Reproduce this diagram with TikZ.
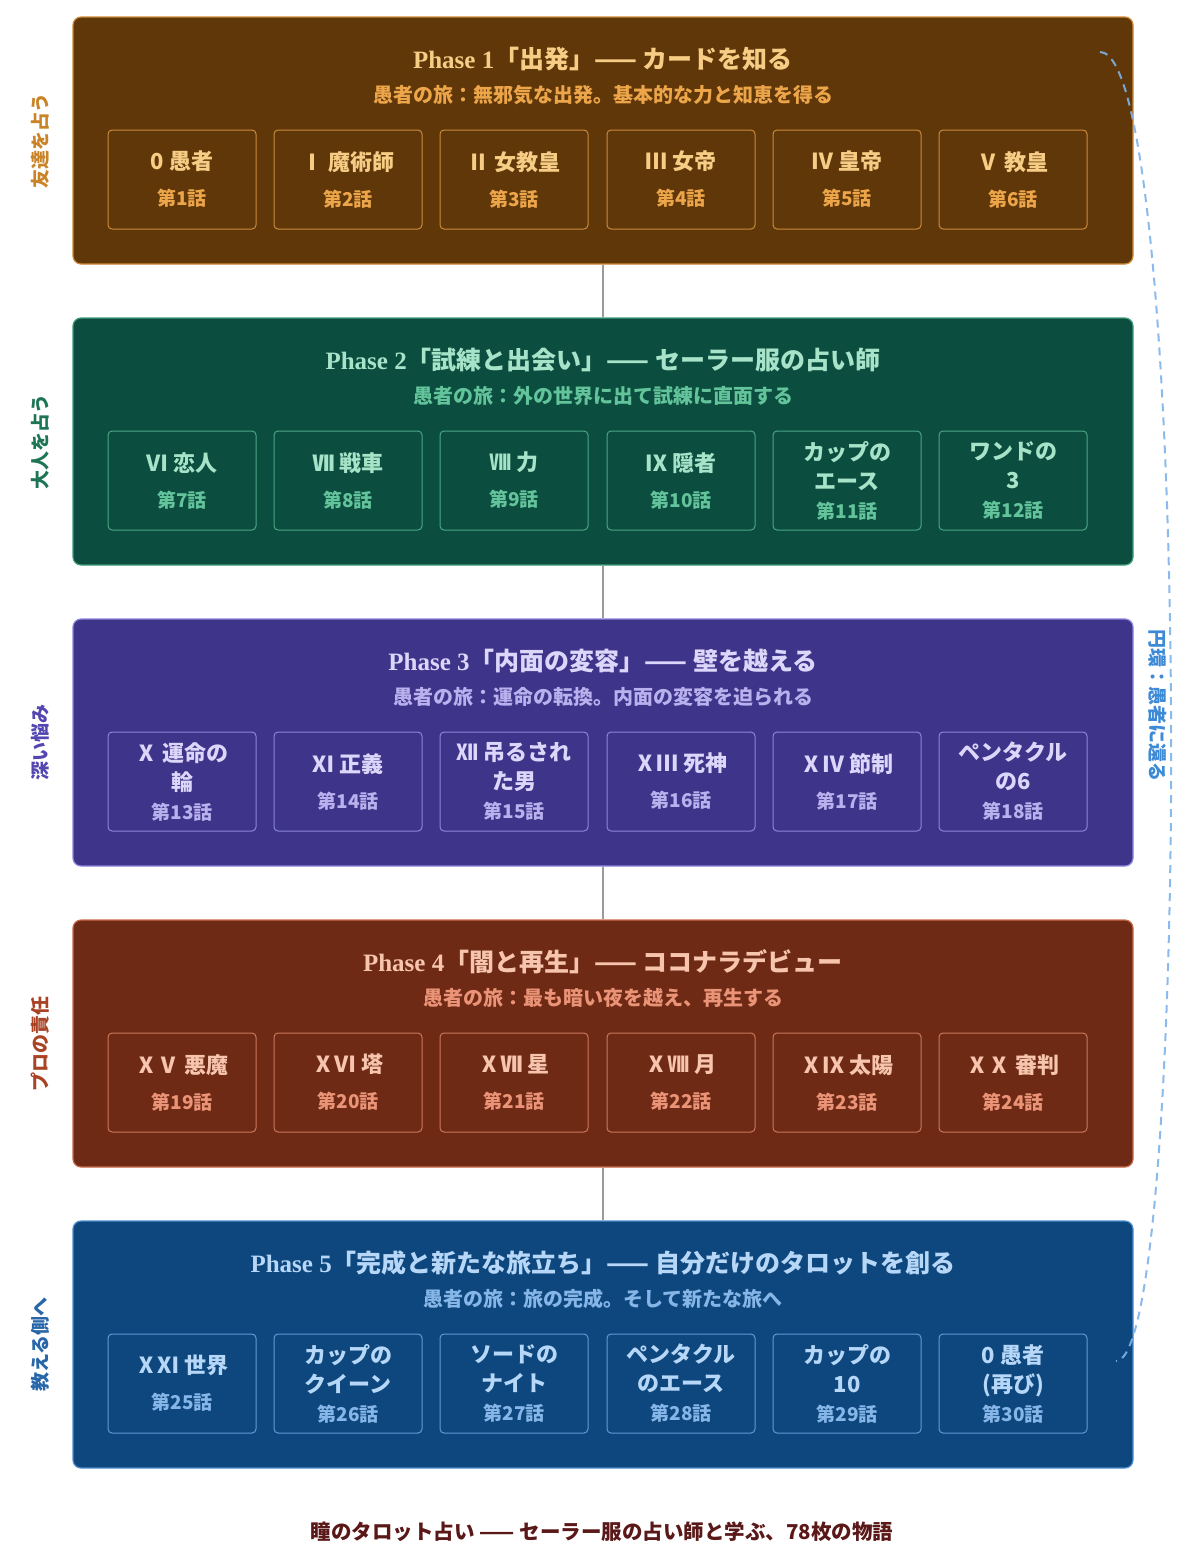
\documentclass[tikz,border=0pt]{standalone}
\usepackage{fontspec}
\setmainfont{Noto Sans CJK JP}
\newfontfamily\lat{Liberation Serif}
\definecolor{AFill}{HTML}{5F3709}\definecolor{ABord}{HTML}{D08A35}\definecolor{ATit}{HTML}{F7CD85}\definecolor{ASub}{HTML}{EDA54A}\definecolor{ACard}{HTML}{C98A3C}\definecolor{ALab}{HTML}{C98428}
\definecolor{BFill}{HTML}{0B4D3E}\definecolor{BBord}{HTML}{3F9C7A}\definecolor{BTit}{HTML}{A6E3C8}\definecolor{BSub}{HTML}{63C49C}\definecolor{BCard}{HTML}{4AA685}\definecolor{BLab}{HTML}{1D7556}
\definecolor{CFill}{HTML}{3E3489}\definecolor{CBord}{HTML}{8D84DC}\definecolor{CTit}{HTML}{DCD6FA}\definecolor{CSub}{HTML}{B9B0EE}\definecolor{CCard}{HTML}{8D84DC}\definecolor{CLab}{HTML}{5346B0}
\definecolor{DFill}{HTML}{6F2A16}\definecolor{DBord}{HTML}{C96A4A}\definecolor{DTit}{HTML}{F7C5AD}\definecolor{DSub}{HTML}{EA9377}\definecolor{DCard}{HTML}{C9785C}\definecolor{DLab}{HTML}{A84325}
\definecolor{EFill}{HTML}{0E477D}\definecolor{EBord}{HTML}{4D8FCF}\definecolor{ETit}{HTML}{B6D7F7}\definecolor{ESub}{HTML}{86B6E8}\definecolor{ECard}{HTML}{5F9AD6}\definecolor{ELab}{HTML}{2766A8}
\definecolor{ConnGray}{HTML}{9A9A9A}
\definecolor{LoopBlue}{HTML}{7FB3EA}
\definecolor{LoopLab}{HTML}{3D8AD6}
\definecolor{FootCol}{HTML}{5A1818}
\newcommand\ce{\fontsize{19}{29}\selectfont}
\tikzset{
  phasebox/.style={draw, rounded corners=8pt, minimum width=1060pt, minimum height=247pt, line width=1.2pt, inner sep=0pt},
  cardbox/.style={draw, rounded corners=4pt, minimum width=148pt, minimum height=99pt, line width=1pt, align=center, inner sep=0pt, font=\bfseries\fontsize{22}{29}\selectfont},
  ttl/.style={font=\bfseries\fontsize{25}{30}\selectfont, inner sep=0pt},
  subttl/.style={font=\bfseries\fontsize{20}{24}\selectfont, inner sep=0pt},
  sidelab/.style={font=\bfseries\fontsize{19}{22}\selectfont, rotate=90, inner sep=0pt},
  conn/.style={draw=ConnGray, line width=2pt},
  loopline/.style={draw=LoopBlue, line width=2pt, dash pattern=on 8pt off 6pt, opacity=0.9},
}
\begin{document}
\begin{tikzpicture}[x=1pt,y=-1pt,font=\bfseries]
\useasboundingbox[fill=white] (0,0) rectangle (1200,1559);
% ---------- Phase 1
\node[phasebox, fill=AFill, draw=ABord] (p1) at (603,140.5) {};
\node[ttl, text=ATit] (t1) at (603,59) {{\lat Phase 1}「出発」—— カードを知る};
\node[subttl, text=ASub] (s1) at (603,95) {愚者の旅：無邪気な出発。基本的な力と知恵を得る};
\node[sidelab, text=ALab] (l1) at (40,140.5) {友達を占う};
\begin{scope}[every node/.append style={cardbox, draw=ACard, text=ATit}]
\node (c1) at (182,179.5) {0 愚者\\[7pt]\ce\color{ASub}第1話};
\node (c2) at (348,179.5) {Ⅰ 魔術師\\[7pt]\ce\color{ASub}第2話};
\node (c3) at (514,179.5) {Ⅱ 女教皇\\[7pt]\ce\color{ASub}第3話};
\node (c4) at (681,179.5) {Ⅲ 女帝\\[7pt]\ce\color{ASub}第4話};
\node (c5) at (847,179.5) {Ⅳ 皇帝\\[7pt]\ce\color{ASub}第5話};
\node (c6) at (1013,179.5) {Ⅴ 教皇\\[7pt]\ce\color{ASub}第6話};
\end{scope}
% ---------- Phase 2
\node[phasebox, fill=BFill, draw=BBord] (p2) at (603,441.5) {};
\node[ttl, text=BTit] (t2) at (603,360) {{\lat Phase 2}「試練と出会い」—— セーラー服の占い師};
\node[subttl, text=BSub] (s2) at (603,396) {愚者の旅：外の世界に出て試練に直面する};
\node[sidelab, text=BLab] (l2) at (40,441.5) {大人を占う};
\begin{scope}[every node/.append style={cardbox, draw=BCard, text=BTit}]
\node (c7) at (182,480.5) {Ⅵ 恋人\\[7pt]\ce\color{BSub}第7話};
\node (c8) at (348,480.5) {Ⅶ 戦車\\[7pt]\ce\color{BSub}第8話};
\node (c9) at (514,480.5) {Ⅷ 力\\[7pt]\ce\color{BSub}第9話};
\node (c10) at (681,480.5) {Ⅸ 隠者\\[7pt]\ce\color{BSub}第10話};
\node (c11) at (847,480.5) {カップの\\エース\\\ce\color{BSub}第11話};
\node (c12) at (1013,480.5) {ワンドの\\3\\\ce\color{BSub}第12話};
\end{scope}
% ---------- Phase 3
\node[phasebox, fill=CFill, draw=CBord] (p3) at (603,742.5) {};
\node[ttl, text=CTit] (t3) at (603,661) {{\lat Phase 3}「内面の変容」—— 壁を越える};
\node[subttl, text=CSub] (s3) at (603,697) {愚者の旅：運命の転換。内面の変容を迫られる};
\node[sidelab, text=CLab] (l3) at (40,742.5) {深い悩み};
\begin{scope}[every node/.append style={cardbox, draw=CCard, text=CTit}]
\node (c13) at (182,781.5) {Ⅹ 運命の\\輪\\\ce\color{CSub}第13話};
\node (c14) at (348,781.5) {Ⅺ 正義\\[7pt]\ce\color{CSub}第14話};
\node (c15) at (514,781.5) {Ⅻ 吊るされ\\た男\\\ce\color{CSub}第15話};
\node (c16) at (681,781.5) {ⅩⅢ 死神\\[7pt]\ce\color{CSub}第16話};
\node (c17) at (847,781.5) {ⅩⅣ 節制\\[7pt]\ce\color{CSub}第17話};
\node (c18) at (1013,781.5) {ペンタクル\\の6\\\ce\color{CSub}第18話};
\end{scope}
% ---------- Phase 4
\node[phasebox, fill=DFill, draw=DBord] (p4) at (603,1043.5) {};
\node[ttl, text=DTit] (t4) at (603,962) {{\lat Phase 4}「闇と再生」—— ココナラデビュー};
\node[subttl, text=DSub] (s4) at (603,998) {愚者の旅：最も暗い夜を越え、再生する};
\node[sidelab, text=DLab] (l4) at (40,1043.5) {プロの責任};
\begin{scope}[every node/.append style={cardbox, draw=DCard, text=DTit}]
\node (c19) at (182,1082.5) {ⅩⅤ 悪魔\\[7pt]\ce\color{DSub}第19話};
\node (c20) at (348,1082.5) {ⅩⅥ 塔\\[7pt]\ce\color{DSub}第20話};
\node (c21) at (514,1082.5) {ⅩⅦ 星\\[7pt]\ce\color{DSub}第21話};
\node (c22) at (681,1082.5) {ⅩⅧ 月\\[7pt]\ce\color{DSub}第22話};
\node (c23) at (847,1082.5) {ⅩⅨ 太陽\\[7pt]\ce\color{DSub}第23話};
\node (c24) at (1013,1082.5) {ⅩⅩ 審判\\[7pt]\ce\color{DSub}第24話};
\end{scope}
% ---------- Phase 5
\node[phasebox, fill=EFill, draw=EBord] (p5) at (603,1344.5) {};
\node[ttl, text=ETit] (t5) at (603,1263) {{\lat Phase 5}「完成と新たな旅立ち」—— 自分だけのタロットを創る};
\node[subttl, text=ESub] (s5) at (603,1299) {愚者の旅：旅の完成。そして新たな旅へ};
\node[sidelab, text=ELab] (l5) at (40,1344.5) {教える側へ};
\begin{scope}[every node/.append style={cardbox, draw=ECard, text=ETit}]
\node (c25) at (182,1383.5) {ⅩⅪ 世界\\[7pt]\ce\color{ESub}第25話};
\node (c26) at (348,1383.5) {カップの\\クイーン\\\ce\color{ESub}第26話};
\node (c27) at (514,1383.5) {ソードの\\ナイト\\\ce\color{ESub}第27話};
\node (c28) at (681,1383.5) {ペンタクル\\のエース\\\ce\color{ESub}第28話};
\node (c29) at (847,1383.5) {カップの\\10\\\ce\color{ESub}第29話};
\node (c30) at (1013,1383.5) {0 愚者\\(再び)\\\ce\color{ESub}第30話};
\end{scope}
% ---------- connectors
\draw[conn] (p1.south) -- (p2.north);
\draw[conn] (p2.south) -- (p3.north);
\draw[conn] (p3.south) -- (p4.north);
\draw[conn] (p4.south) -- (p5.north);
% ---------- loop back
\coordinate (loopA) at (1100,52);
\coordinate (loopB) at (1116,1361);
\draw[loopline] (loopA) .. controls (1192,52) and (1192,1361) .. (loopB);
\node[sidelab, rotate=-180, text=LoopLab] (lr) at (1158,705) {円環：愚者に還る};
% ---------- footer
\node[text=FootCol, font=\bfseries\fontsize{20.5}{24}\selectfont, inner sep=0pt] (ft) at (602,1532) {瞳のタロット占い —— セーラー服の占い師と学ぶ、78枚の物語};
\end{tikzpicture}
\end{document}
